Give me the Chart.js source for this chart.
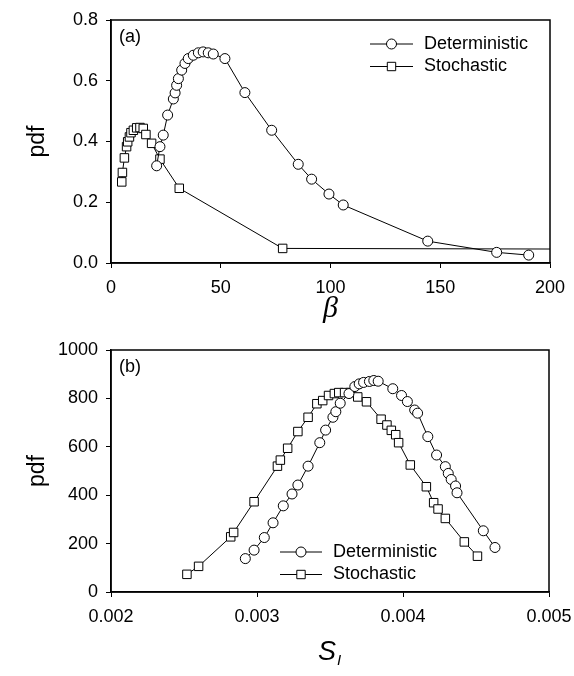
<!DOCTYPE html>
<html><head><meta charset="utf-8">
<script src="https://cdn.jsdelivr.net/npm/chart.js@4.4.0/dist/chart.umd.min.js"></script>
<style>
html,body{margin:0;padding:0;background:#fff;}
#wrap{position:relative;width:574px;height:676px;background:#fff;}
.c{position:absolute;left:0;width:574px;height:338px;}
</style></head><body>
<div id="wrap">
<div class="c" style="top:0"><canvas id="ca"></canvas></div>
<div class="c" style="top:338px"><canvas id="cb"></canvas></div>
</div>
<script>
// ---- Panel (a) data ----
const betaDet = [20.8, 22.3, 23.8, 25.8, 28.4, 29.2, 29.9, 30.7, 32.2, 33.7, 35.2, 37.5, 39.8, 42.0, 44.3, 46.6, 51.9, 61.0, 73.2, 85.3, 91.4, 99.3, 105.8, 144.3, 175.7, 190.3];
const pdfDetA = [0.320, 0.383, 0.421, 0.487, 0.540, 0.560, 0.585, 0.607, 0.635, 0.657, 0.673, 0.684, 0.692, 0.695, 0.692, 0.688, 0.673, 0.561, 0.437, 0.325, 0.276, 0.227, 0.191, 0.072, 0.035, 0.026];
const betaSto = [4.9, 5.2, 6.1, 7.1, 7.6, 8.4, 9.1, 10.2, 11.7, 13.2, 14.7, 15.9, 18.5, 22.3, 31.1, 78.2, 200];
const pdfStoA = [0.267, 0.298, 0.346, 0.383, 0.399, 0.415, 0.429, 0.437, 0.445, 0.446, 0.443, 0.423, 0.394, 0.342, 0.246, 0.048, 0.046];
const ticksA_x = [0, 50, 100, 150, 200];
const ticksA_y = [0.0, 0.2, 0.4, 0.6, 0.8];

// ---- Panel (b) data ----
const siDet = [0.00292, 0.00298, 0.00305, 0.00311, 0.00318, 0.00324, 0.00328, 0.00335, 0.00343, 0.00347, 0.00352, 0.00354, 0.00357, 0.00363, 0.00367, 0.00370, 0.00373, 0.00377, 0.00380, 0.00383, 0.00393, 0.00399, 0.00403, 0.00408, 0.00410, 0.00417, 0.00423, 0.00429, 0.00431, 0.00433, 0.00436, 0.00437, 0.00455, 0.00463];
const pdfDetB = [138, 173, 225, 286, 356, 405, 442, 520, 617, 669, 722, 745, 780, 820, 849, 860, 866, 870, 874, 871, 840, 812, 787, 752, 739, 642, 566, 518, 490, 465, 438, 410, 253, 184];
const siSto = [0.00252, 0.00260, 0.00282, 0.00284, 0.00298, 0.00314, 0.00316, 0.00321, 0.00328, 0.00335, 0.00341, 0.00345, 0.00349, 0.00353, 0.00356, 0.00360, 0.00364, 0.00369, 0.00375, 0.00385, 0.00389, 0.00392, 0.00395, 0.00397, 0.00405, 0.00416, 0.00421, 0.00424, 0.00429, 0.00442, 0.00451];
const pdfStoB = [73, 106, 228, 246, 373, 520, 545, 594, 663, 722, 778, 791, 812, 820, 824, 824, 824, 806, 786, 714, 690, 668, 650, 617, 525, 435, 369, 343, 304, 207, 148];
const ticksB_x = [0.002, 0.003, 0.004, 0.005];
const ticksB_y = [0, 200, 400, 600, 800, 1000];

const seriesNames = ['Deterministic', 'Stochastic'];
const FONT = '"Liberation Sans", Arial, Helvetica, sans-serif';

function pts(xs, ys) { return xs.map((x, i) => ({x: x, y: ys[i]})); }

function ds(label, xs, ys, style, radii) {
  return {
    label: label,
    data: pts(xs, ys),
    showLine: true,
    borderColor: '#000',
    borderWidth: 1,
    backgroundColor: '#fff',
    pointBackgroundColor: '#fff',
    pointBorderColor: '#000',
    pointBorderWidth: 1,
    pointStyle: style,
    pointRadius: radii,
    pointHoverRadius: radii,
    tension: 0
  };
}

function drawMarker(ctx, style, x, y) {
  ctx.save();
  ctx.fillStyle = '#fff';
  ctx.strokeStyle = '#000';
  ctx.lineWidth = 1;
  ctx.beginPath();
  if (style === 'circle') {
    ctx.arc(x, y, 5, 0, Math.PI * 2);
  } else {
    ctx.rect(x - 4.2, y - 4.2, 8.4, 8.4);
  }
  ctx.fill();
  ctx.stroke();
  ctx.restore();
}

const decor = {
  id: 'decor',
  afterDraw(chart, args, o) {
    const ctx = chart.ctx;
    const a = chart.chartArea;
    ctx.save();
    // frame
    ctx.strokeStyle = '#000';
    ctx.lineWidth = 1.5;
    ctx.strokeRect(a.left, a.top, a.right - a.left, a.bottom - a.top);
    // panel label
    ctx.fillStyle = '#000';
    ctx.font = '18px ' + FONT;
    ctx.textBaseline = 'middle';
    ctx.textAlign = 'left';
    ctx.fillText(o.panel, a.left + 8, a.top + 17);
    // legend
    const L = o.legend;
    chart.data.datasets.forEach((d, i) => {
      const y = L.y + i * L.dy;
      ctx.strokeStyle = '#000';
      ctx.lineWidth = 1;
      ctx.beginPath();
      ctx.moveTo(L.x0, y);
      ctx.lineTo(L.x1, y);
      ctx.stroke();
      drawMarker(ctx, d.pointStyle, (L.x0 + L.x1) / 2, y);
      ctx.fillStyle = '#000';
      ctx.font = '18px ' + FONT;
      ctx.textAlign = 'left';
      ctx.textBaseline = 'middle';
      ctx.fillText(d.label, L.tx, y);
    });
    // y title
    ctx.save();
    ctx.translate(38, (a.top + a.bottom) / 2);
    ctx.rotate(-Math.PI / 2);
    ctx.font = '23px ' + FONT;
    ctx.textAlign = 'center';
    ctx.textBaseline = 'middle';
    ctx.fillText('pdf', 0, 0);
    ctx.restore();
    // x title
    const cx = (a.left + a.right) / 2;
    if (o.xtitle === 'beta') {
      ctx.font = 'italic 30px "Liberation Serif", "DejaVu Serif", serif';
      ctx.textAlign = 'center';
      ctx.textBaseline = 'middle';
      ctx.fillText('β', cx, o.xty);
    } else {
      ctx.font = 'italic 27px ' + FONT;
      ctx.textAlign = 'left';
      ctx.textBaseline = 'middle';
      const w = ctx.measureText('S').width;
      ctx.fillText('S', cx - w / 2 - 3, o.xty);
      ctx.font = 'italic 15px ' + FONT;
      ctx.fillText('I', cx + w / 2 - 2, o.xty + 9);
    }
    ctx.restore();
  }
};

function zeroPad(s) { s.paddingLeft = 0; s.paddingRight = 0; s.paddingTop = 0; s.paddingBottom = 0; }

function axisX(min, max, step, ticksArr, fmt, h) {
  return {
    type: 'linear', min: min, max: max,
    afterBuildTicks: s => { s.ticks = ticksArr.map(v => ({value: v})); },
    afterFit: s => { s.height = h; zeroPad(s); },
    ticks: { color: '#000', font: {size: 18, family: FONT}, padding: 9, maxRotation: 0, callback: fmt },
    grid: { drawOnChartArea: false, drawTicks: true, tickLength: 5, color: '#000', tickWidth: 1 },
    border: { display: true, color: '#000', width: 1.5 }
  };
}
function axisY(min, max, ticksArr, fmt, w) {
  return {
    type: 'linear', min: min, max: max,
    afterBuildTicks: s => { s.ticks = ticksArr.map(v => ({value: v})); },
    afterFit: s => { s.width = w; zeroPad(s); },
    ticks: { color: '#000', font: {size: 18, family: FONT}, padding: 8, callback: fmt },
    grid: { drawOnChartArea: false, drawTicks: true, tickLength: 5, color: '#000', tickWidth: 1 },
    border: { display: true, color: '#000', width: 1.5 }
  };
}

const radA_det = betaDet.map(() => 5);
const radA_sto = betaSto.map((v, i) => i === betaSto.length - 1 ? 0 : 6);

new Chart(document.getElementById('ca'), {
  type: 'scatter',
  data: { datasets: [
    ds(seriesNames[0], betaDet, pdfDetA, 'circle', radA_det),
    ds(seriesNames[1], betaSto, pdfStoA, 'rect', radA_sto)
  ]},
  options: {
    responsive: true, maintainAspectRatio: false, animation: false,
    layout: { padding: { top: 20, right: 24, left: 0, bottom: 0 } },
    plugins: {
      legend: { display: false }, tooltip: { enabled: false },
      decor: { panel: '(a)', legend: { x0: 370, x1: 413, tx: 424, y: 44, dy: 22.5 }, xtitle: 'beta', xty: 309 }
    },
    scales: {
      x: axisX(0, 200, 50, ticksA_x, v => String(v), 75),
      y: axisY(0, 0.8, ticksA_y, v => v.toFixed(1), 111)
    }
  },
  plugins: [decor]
});

new Chart(document.getElementById('cb'), {
  type: 'scatter',
  data: { datasets: [
    ds(seriesNames[0], siDet, pdfDetB, 'circle', siDet.map(() => 5)),
    ds(seriesNames[1], siSto, pdfStoB, 'rect', siSto.map(() => 6))
  ]},
  options: {
    responsive: true, maintainAspectRatio: false, animation: false,
    layout: { padding: { top: 12, right: 25, left: 0, bottom: 0 } },
    plugins: {
      legend: { display: false }, tooltip: { enabled: false },
      decor: { panel: '(b)', legend: { x0: 280, x1: 322, tx: 333, y: 214, dy: 22.5 }, xtitle: 'si', xty: 314 }
    },
    scales: {
      x: axisX(0.002, 0.005, 0.001, ticksB_x, v => Number(v).toFixed(3), 84),
      y: axisY(0, 1000, ticksB_y, v => String(v), 111)
    }
  },
  plugins: [decor]
});
</script>
</body></html>
